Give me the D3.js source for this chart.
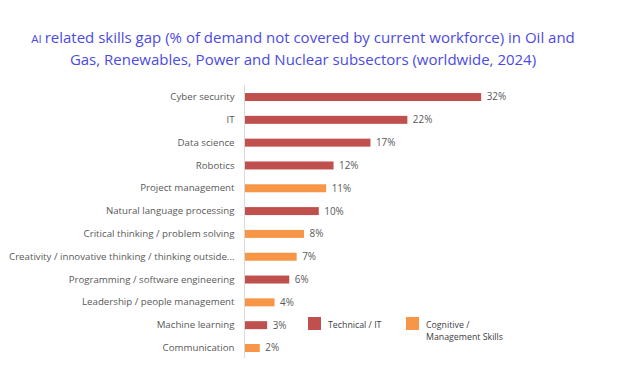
<!DOCTYPE html>
<html>
<head>
<meta charset="utf-8">
<script src="https://cdn.jsdelivr.net/npm/d3@7"></script>
<style>
  body { margin: 0; background: #fff; }
  text { font-family: "Open Sans", "Liberation Sans", sans-serif; }
</style>
</head>
<body>
<div id="chart"></div>
<script>
const skills = [
    "Cyber security", "IT", "Data science", "Robotics", "Project management",
    "Natural language processing", "Critical thinking / problem solving",
    "Creativity / innovative thinking / thinking outside...",
    "Programming / software engineering", "Leadership / people management",
    "Machine learning", "Communication"
];
const gapValues = [32, 22, 17, 12, 11, 10, 8, 7, 6, 4, 3, 2];
const skillTypes = ["tech", "tech", "tech", "tech", "cog", "tech", "cog", "cog", "tech", "cog", "tech", "cog"];
const legendLabels = [["Technical / IT"], ["Cognitive /", "Management Skills"]];
const titleLines = [
    "related skills gap (% of demand not covered by current workforce) in Oil and",
    "Gas, Renewables, Power and Nuclear subsectors (worldwide, 2024)"
];

const width = 639, height = 374;
const colors = { tech: "#C0504D", cog: "#F79646" };
const rows = skills.map((s, i) => ({ skill: s, value: gapValues[i], type: skillTypes[i] }));

const svg = d3.select("#chart").append("svg")
    .attr("width", width).attr("height", height);

// title
const title = svg.append("g").attr("fill", "#4B4BE3").attr("text-anchor", "middle");
const t1 = title.append("text").attr("x", 303).attr("y", 43).style("font-size", "15px");
t1.append("tspan").style("font-size", "11.5px").text("AI ");
t1.append("tspan").text(titleLines[0]);
title.append("text").attr("x", 303).attr("y", 65).style("font-size", "15px").text(titleLines[1]);

const x = d3.scaleLinear().domain([0, 35]).range([244.5, 244.5 + 35 * 7.38]);
const y = d3.scaleBand().domain(skills).range([85.5, 359.5]).paddingInner(0.65).paddingOuter(0.33);

// axis line
svg.append("line")
    .attr("x1", x(0)).attr("x2", x(0))
    .attr("y1", 85).attr("y2", 358)
    .attr("stroke", "#D9D9D9").attr("stroke-width", 1);

const yAxis = d3.axisLeft(y).tickSize(0).tickPadding(10);
svg.append("g")
    .attr("transform", `translate(${x(0)},0)`)
    .call(yAxis)
    .call(g => g.select(".domain").remove())
    .call(g => g.selectAll("text").attr("fill", "#595959").style("font-size", "9.7px")
        .attr("font-family", "'Open Sans', 'Liberation Sans', sans-serif"));

svg.append("g").selectAll("rect")
    .data(rows)
    .join("rect")
    .attr("x", x(0) + 0.5)
    .attr("y", d => y(d.skill))
    .attr("width", d => x(d.value) - x(0))
    .attr("height", y.bandwidth())
    .attr("fill", d => colors[d.type]);

svg.append("g").selectAll("text")
    .data(rows)
    .join("text")
    .attr("x", d => x(d.value) + 6)
    .attr("y", d => y(d.skill) + y.bandwidth() / 2)
    .attr("dy", "0.35em")
    .attr("fill", "#595959")
    .style("font-size", "9.9px")
    .text(d => `${d.value}%`);

// legend
const legend = svg.append("g");
const legendX = [308, 406];
["tech", "cog"].forEach((k, i) => {
    legend.append("rect")
        .attr("x", legendX[i]).attr("y", 317)
        .attr("width", 13).attr("height", 13)
        .attr("fill", colors[k]);
    legendLabels[i].forEach((line, j) => {
        legend.append("text")
            .attr("x", legendX[i] + 20).attr("y", 328 + j * 12)
            .attr("fill", "#404040")
            .style("font-size", "8.8px")
            .text(line);
    });
});
</script>
</body>
</html>
